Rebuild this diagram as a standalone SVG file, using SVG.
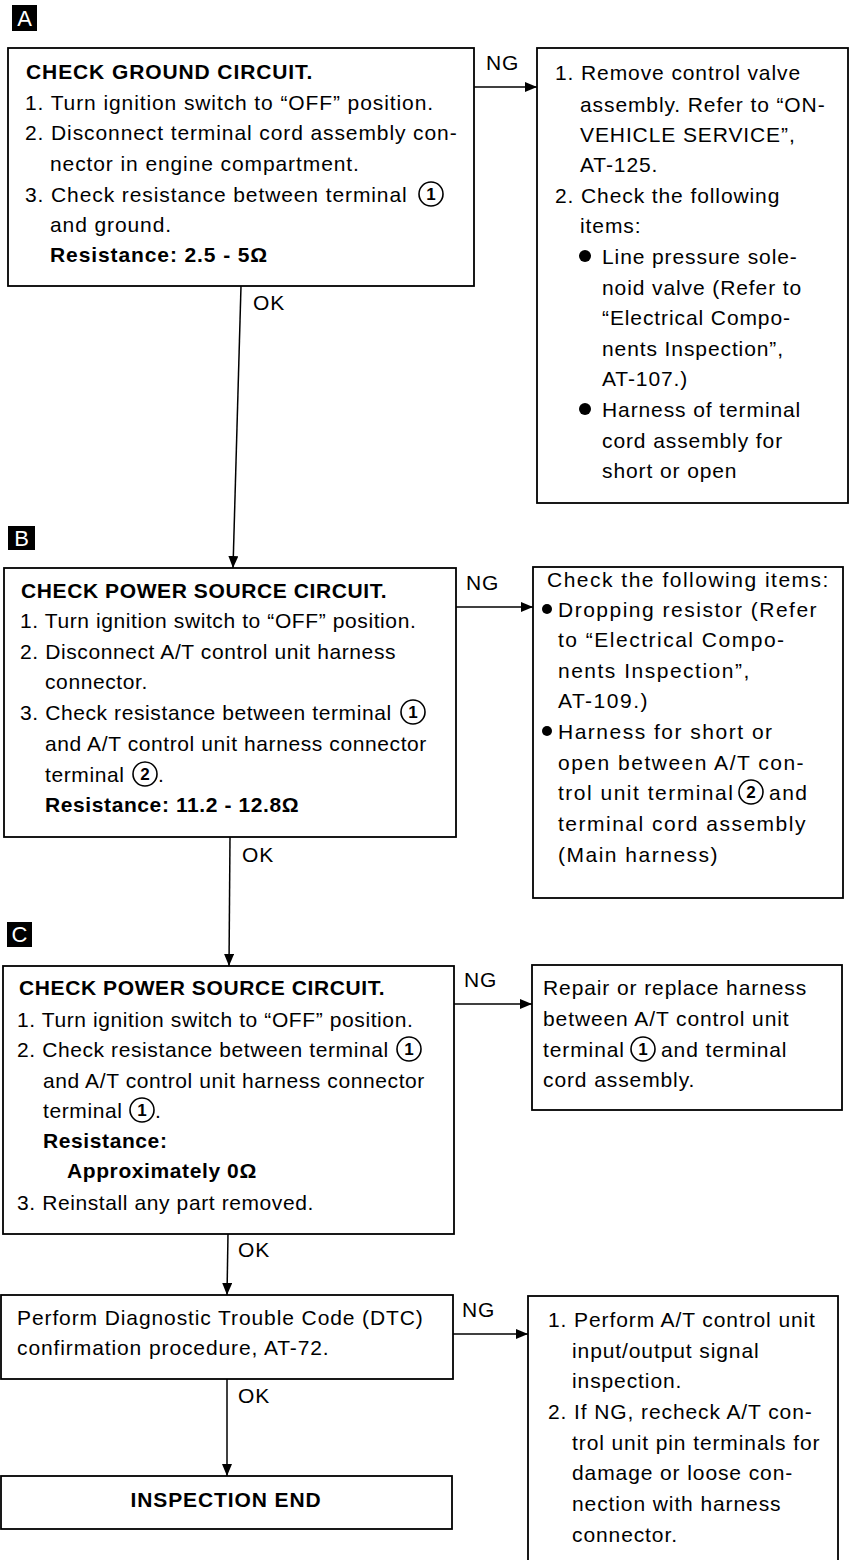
<svg xmlns="http://www.w3.org/2000/svg" width="852" height="1560" viewBox="0 0 852 1560">
<defs>
<style>
.t{font-family:"Liberation Sans",Arial,Helvetica,sans-serif;font-size:21px;letter-spacing:0.9px;fill:#000}
.n{letter-spacing:0.6px}
.w{letter-spacing:1.5px}
.b{font-weight:bold}
.box{fill:#fff;stroke:#000;stroke-width:1.8}
.conn{stroke:#000;stroke-width:1.5;fill:none}
.circ{fill:none;stroke:#000;stroke-width:1.6}
.cn{font-family:"Liberation Sans",Arial,sans-serif;font-weight:bold;font-size:17px;text-anchor:middle;fill:#000}
.lab{fill:#000}
.labt{font-family:"Liberation Sans",Arial,sans-serif;font-size:22px;fill:#fff;text-anchor:middle}
.dot{fill:#000}
</style>
<marker id="arr" markerWidth="12" markerHeight="10" refX="12" refY="5" orient="auto" markerUnits="userSpaceOnUse">
<path d="M0,0 L12,5 L0,10 Z" fill="#000"/>
</marker>
</defs>
<rect width="852" height="1560" fill="#fff"/>

<!-- section labels -->
<g id="label-A"><rect class="lab" x="12" y="5" width="25" height="26"/><text class="labt" x="24.5" y="26">A</text></g>
<g id="label-B"><rect class="lab" x="8" y="526" width="27" height="24"/><text class="labt" x="21.5" y="546">B</text></g>
<g id="label-C"><rect class="lab" x="7" y="922" width="25" height="25"/><text class="labt" x="19.5" y="942">C</text></g>

<!-- connectors -->
<g id="connectors">
<line class="conn" x1="474" y1="87" x2="537" y2="87" marker-end="url(#arr)"/>
<line class="conn" x1="456" y1="607" x2="533" y2="607" marker-end="url(#arr)"/>
<line class="conn" x1="454" y1="1004" x2="532" y2="1004" marker-end="url(#arr)"/>
<line class="conn" x1="453" y1="1334" x2="528" y2="1334" marker-end="url(#arr)"/>
<line class="conn" x1="241" y1="286" x2="233" y2="568" marker-end="url(#arr)"/>
<line class="conn" x1="230" y1="837" x2="229" y2="966" marker-end="url(#arr)"/>
<line class="conn" x1="228" y1="1234" x2="227" y2="1295" marker-end="url(#arr)"/>
<line class="conn" x1="227" y1="1379" x2="227" y2="1476" marker-end="url(#arr)"/>
<text class="t" x="486" y="70">NG</text>
<text class="t" x="466" y="590">NG</text>
<text class="t" x="464" y="987">NG</text>
<text class="t" x="462" y="1317">NG</text>
<text class="t" x="253" y="310">OK</text>
<text class="t" x="242" y="862">OK</text>
<text class="t" x="238" y="1257">OK</text>
<text class="t" x="238" y="1403">OK</text>
</g>

<!-- Box A -->
<g id="nodeA">
<rect class="box" x="8" y="48" width="466" height="238"/>
<text class="t b" x="26" y="79">CHECK GROUND CIRCUIT.</text>
<text class="t" x="25" y="110">1. Turn ignition switch to “OFF” position.</text>
<text class="t" x="25" y="140">2. Disconnect terminal cord assembly con-</text>
<text class="t" x="50" y="171">nector in engine compartment.</text>
<text class="t" x="25" y="202">3. Check resistance between terminal</text>
<circle class="circ" cx="431" cy="194" r="12"/><text class="cn" x="431" y="200">1</text>
<text class="t" x="50" y="232">and ground.</text>
<text class="t b" x="50" y="262">Resistance: 2.5 - 5Ω</text>
</g>

<!-- Box A NG -->
<g id="nodeA-NG">
<rect class="box" x="537" y="48" width="311" height="455"/>
<text class="t" x="555" y="80">1. Remove control valve</text>
<text class="t" x="580" y="112">assembly. Refer to “ON-</text>
<text class="t" x="580" y="142">VEHICLE SERVICE”,</text>
<text class="t" x="580" y="172">AT-125.</text>
<text class="t" x="555" y="203">2. Check the following</text>
<text class="t" x="580" y="233">items:</text>
<circle class="dot" cx="585" cy="256" r="6"/>
<text class="t" x="602" y="264">Line pressure sole-</text>
<text class="t" x="602" y="295">noid valve (Refer to</text>
<text class="t" x="602" y="325">“Electrical Compo-</text>
<text class="t" x="602" y="356">nents Inspection”,</text>
<text class="t" x="602" y="386">AT-107.)</text>
<circle class="dot" cx="585" cy="409" r="6"/>
<text class="t" x="602" y="417">Harness of terminal</text>
<text class="t" x="602" y="448">cord assembly for</text>
<text class="t" x="602" y="478">short or open</text>
</g>

<!-- Box B -->
<g id="nodeB">
<rect class="box" x="4" y="568" width="452" height="269"/>
<text class="t n b" x="21" y="598">CHECK POWER SOURCE CIRCUIT.</text>
<text class="t n" x="20" y="628">1. Turn ignition switch to “OFF” position.</text>
<text class="t n" x="20" y="659">2. Disconnect A/T control unit harness</text>
<text class="t n" x="45" y="689">connector.</text>
<text class="t n" x="20" y="720">3. Check resistance between terminal</text>
<circle class="circ" cx="413" cy="712" r="12"/><text class="cn" x="413" y="718">1</text>
<text class="t n" x="45" y="751">and A/T control unit harness connector</text>
<text class="t n" x="45" y="782">terminal</text>
<circle class="circ" cx="145" cy="774" r="12"/><text class="cn" x="145" y="780">2</text>
<text class="t n" x="158" y="782">.</text>
<text class="t n b" x="45" y="812">Resistance: 11.2 - 12.8Ω</text>
</g>

<!-- Box B NG -->
<g id="nodeB-NG">
<rect class="box" x="533" y="567" width="310" height="331"/>
<text class="t w" x="547" y="587">Check the following items:</text>
<circle class="dot" cx="547" cy="609" r="5"/>
<text class="t w" x="558" y="617">Dropping resistor (Refer</text>
<text class="t w" x="558" y="647">to “Electrical Compo-</text>
<text class="t w" x="558" y="678">nents Inspection”,</text>
<text class="t w" x="558" y="708">AT-109.)</text>
<circle class="dot" cx="547" cy="731" r="5"/>
<text class="t w" x="558" y="739">Harness for short or</text>
<text class="t w" x="558" y="770">open between A/T con-</text>
<text class="t w" x="558" y="800">trol unit terminal</text>
<circle class="circ" cx="751" cy="792" r="12"/><text class="cn" x="751" y="798">2</text>
<text class="t w" x="769" y="800">and</text>
<text class="t w" x="558" y="831">terminal cord assembly</text>
<text class="t w" x="558" y="862">(Main harness)</text>
</g>

<!-- Box C -->
<g id="nodeC">
<rect class="box" x="3" y="966" width="451" height="268"/>
<text class="t n b" x="19" y="995">CHECK POWER SOURCE CIRCUIT.</text>
<text class="t n" x="17" y="1027">1. Turn ignition switch to “OFF” position.</text>
<text class="t n" x="17" y="1057">2. Check resistance between terminal</text>
<circle class="circ" cx="409" cy="1049" r="12"/><text class="cn" x="409" y="1055">1</text>
<text class="t n" x="43" y="1088">and A/T control unit harness connector</text>
<text class="t n" x="43" y="1118">terminal</text>
<circle class="circ" cx="142" cy="1110" r="12"/><text class="cn" x="142" y="1116">1</text>
<text class="t n" x="155" y="1118">.</text>
<text class="t n b" x="43" y="1148">Resistance:</text>
<text class="t n b" x="67" y="1178">Approximately 0Ω</text>
<text class="t n" x="17" y="1210">3. Reinstall any part removed.</text>
</g>

<!-- Box C NG -->
<g id="nodeC-NG">
<rect class="box" x="532" y="965" width="310" height="145"/>
<text class="t" x="543" y="995">Repair or replace harness</text>
<text class="t" x="543" y="1026">between A/T control unit</text>
<text class="t" x="543" y="1057">terminal</text>
<circle class="circ" cx="643" cy="1049" r="12"/><text class="cn" x="643" y="1055">1</text>
<text class="t" x="661" y="1057">and terminal</text>
<text class="t" x="543" y="1087">cord assembly.</text>
</g>

<!-- Box D -->
<g id="nodeD">
<rect class="box" x="1" y="1295" width="452" height="84"/>
<text class="t" x="17" y="1325">Perform Diagnostic Trouble Code (DTC)</text>
<text class="t" x="17" y="1355">confirmation procedure, AT-72.</text>
</g>

<!-- Box D NG -->
<g id="nodeD-NG">
<rect class="box" x="528" y="1296" width="310" height="290"/>
<text class="t" x="548" y="1327">1. Perform A/T control unit</text>
<text class="t" x="572" y="1358">input/output signal</text>
<text class="t" x="572" y="1388">inspection.</text>
<text class="t" x="548" y="1419">2. If NG, recheck A/T con-</text>
<text class="t" x="572" y="1450">trol unit pin terminals for</text>
<text class="t" x="572" y="1480">damage or loose con-</text>
<text class="t" x="572" y="1511">nection with harness</text>
<text class="t" x="572" y="1542">connector.</text>
</g>

<!-- Box E -->
<g id="nodeE">
<rect class="box" x="1" y="1476" width="451" height="53"/>
<text class="t b" x="226" y="1507" text-anchor="middle">INSPECTION END</text>
</g>
</svg>
